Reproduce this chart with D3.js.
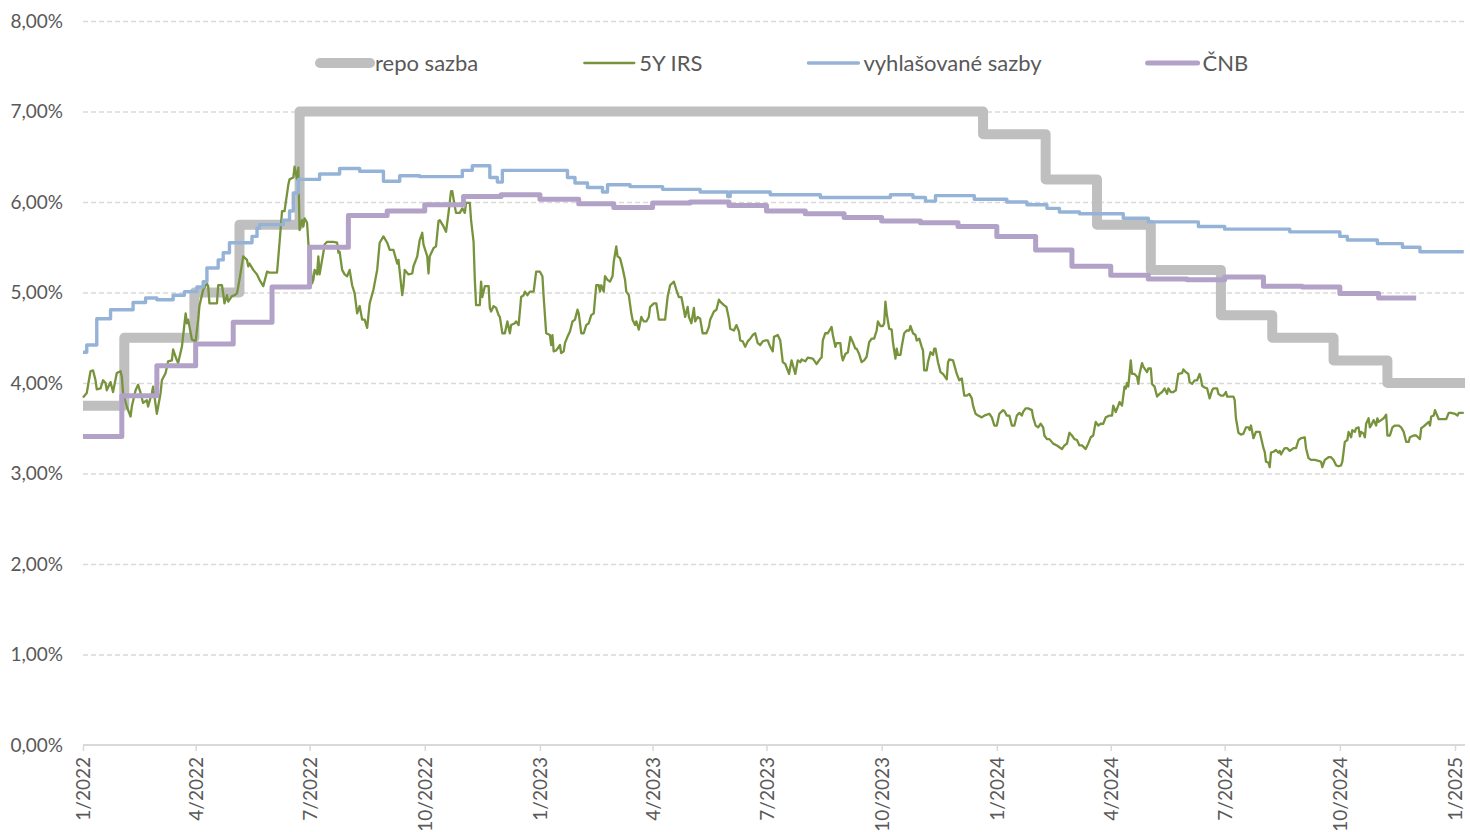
<!DOCTYPE html>
<html lang="cs">
<head>
<meta charset="UTF-8">
<script src="https://cdn.jsdelivr.net/npm/d3@7"></script>
<style>
  html, body { margin: 0; background: #fff; }
  svg { display: block; font-family: Lato, "Open Sans", sans-serif; }
</style>
</head>
<body>
<svg id="chart" width="1470" height="832"></svg>
<script>
// ---- data ----
var START = new Date(2022, 0, 1);

// repo sazba: date of change -> rate (%)
var repoDates = ["2022-01-01","2022-02-03","2022-03-31","2022-05-06","2022-06-23","2023-12-21",
                 "2024-02-09","2024-03-21","2024-05-03","2024-06-28","2024-08-08","2024-09-26",
                 "2024-11-08","2025-01-09"];
var repoRates = [3.75,4.50,5.00,5.75,7.00,6.75,6.25,5.75,5.25,4.75,4.50,4.25,4.00,4.00];

// ČNB: monthly values
var cnbMonths = ["2022-01","2022-02","2022-03","2022-04","2022-05","2022-06","2022-07","2022-08","2022-09",
                 "2022-10","2022-11","2022-12","2023-01","2023-02","2023-03","2023-04","2023-05","2023-06",
                 "2023-07","2023-08","2023-09","2023-10","2023-11","2023-12","2024-01","2024-02","2024-03",
                 "2024-04","2024-05","2024-06","2024-07","2024-08","2024-09","2024-10","2024-11","2024-12"];
var cnbRates = [3.41,3.86,4.19,4.43,4.67,5.06,5.50,5.85,5.90,5.97,6.06,6.08,
                6.03,5.98,5.94,5.99,6.00,5.96,5.90,5.87,5.83,5.79,5.77,5.73,
                5.62,5.47,5.29,5.19,5.15,5.14,5.17,5.07,5.06,4.99,4.94,4.94];

// vyhlašované sazby: [days since 1/1/2022, rate]
var announced = [[0,4.34],[3,4.42],[11,4.71],[22,4.81],[40,4.89],[50,4.94],[59,4.92],[72,4.97],[81,5.01],
  [91,5.06],[96,5.12],[99,5.27],[108,5.36],[112,5.44],[117,5.55],[135,5.62],[139,5.71],[141,5.75],
  [160,5.80],[165,5.90],[168,6.10],[172,6.25],[189,6.31],[205,6.37],[221,6.34],[240,6.23],[253,6.29],
  [269,6.28],[303,6.35],[311,6.40],[325,6.27],[331,6.22],[335,6.35],[387,6.27],[393,6.21],[403,6.16],
  [415,6.11],[419,6.19],[437,6.17],[463,6.14],[493,6.11],[515,6.06],[517,6.11],[549,6.08],[589,6.05],
  [645,6.08],[663,6.05],[673,6.01],[681,6.07],[712,6.03],[738,6.00],[754,5.97],[770,5.93],[780,5.89],
  [796,5.87],[831,5.82],[851,5.78],[891,5.73],[912,5.70],[964,5.67],[1004,5.62],[1010,5.58],
  [1034,5.54],[1054,5.50],[1068,5.45],[1103,5.45]];

// 5Y IRS: [days since 1/1/2022, rate]
var irs = [[0,3.84],[3,3.89],[6,4.13],[8,4.14],[10,4.03],[11,3.93],[14,3.94],[16,4.03],[18,4.00],[19,3.92],
  [22,4.01],[24,3.90],[27,4.11],[30,4.13],[31,4.07],[32,3.89],[35,3.74],[38,3.63],[39,3.74],[42,3.92],
  [44,3.98],[46,3.89],[48,3.78],[51,3.81],[52,3.74],[55,3.89],[56,3.96],[59,3.66],[62,3.89],[63,4.03],
  [66,4.11],[68,4.24],[71,4.25],[72,4.37],[74,4.29],[75,4.25],[76,4.22],[79,4.40],[82,4.77],[83,4.66],
  [84,4.70],[87,4.48],[90,4.46],[92,4.70],[93,4.85],[96,5.03],[99,5.10],[100,5.07],[101,4.88],[104,4.88],
  [107,4.88],[108,5.08],[111,5.08],[112,4.99],[113,4.88],[115,4.97],[116,4.90],[119,4.96],[121,4.97],[123,4.99],
  [125,5.14],[128,5.40],[131,5.36],[132,5.29],[133,5.32],[136,5.25],[139,5.20],[141,5.14],[144,5.07],[147,5.23],
  [149,5.22],[155,5.22],[157,5.55],[159,5.90],[161,5.90],[164,6.19],[165,6.25],[168,6.27],[169,6.39],[171,6.25],
  [172,6.38],[173,5.69],[175,5.80],[176,5.73],[177,5.82],[179,5.77],[180,5.55],[181,5.40],[183,5.10],[184,5.14],
  [185,5.25],[187,5.20],[188,5.40],[189,5.20],[191,5.36],[192,5.44],[193,5.53],[195,5.56],[197,5.56],[200,5.56],
  [203,5.55],[204,5.44],[205,5.45],[207,5.25],[209,5.20],[211,5.18],[213,5.25],[215,5.08],[217,4.99],[219,4.77],
  [221,4.85],[223,4.70],[225,4.70],[227,4.61],[229,4.88],[232,5.03],[235,5.25],[237,5.55],[240,5.62],[243,5.55],
  [245,5.47],[248,5.47],[251,5.32],[252,5.36],[255,4.97],[256,5.07],[257,5.25],[260,5.20],[263,5.21],[264,5.29],
  [267,5.40],[269,5.58],[271,5.66],[272,5.53],[275,5.40],[276,5.21],
  [277,5.40],[280,5.49],[282,5.51],[284,5.79],[285,5.80],[288,5.73],[290,5.67],[292,5.88],[294,6.12],[295,6.12],
  [297,5.95],[298,5.88],[301,5.88],[303,5.93],[305,5.88],[306,5.99],[309,5.99],[310,5.80],[312,5.56],[313,5.14],
  [314,4.86],[317,4.86],[318,5.12],[319,4.95],[321,5.07],[324,5.07],[325,4.83],[326,4.79],[328,4.85],[330,4.83],
  [332,4.75],[333,4.73],[335,4.55],[337,4.55],[339,4.68],[341,4.55],[342,4.64],[345,4.66],[346,4.68],[348,4.64],
  [350,4.95],[352,4.97],[353,5.01],[355,4.97],[357,5.01],[360,5.01],[362,5.23],[365,5.23],[367,5.18],[368,4.95],
  [370,4.55],[373,4.53],[374,4.42],[375,4.53],[376,4.35],[378,4.36],[380,4.40],[381,4.42],[382,4.33],[384,4.35],
  [385,4.44],[387,4.51],[389,4.57],[391,4.68],[393,4.70],[395,4.81],[396,4.77],[398,4.55],[400,4.55],[402,4.64],
  [404,4.66],[406,4.75],[408,4.77],[410,5.08],[412,5.08],[413,5.01],[414,5.08],[416,5.01],[417,5.18],[419,5.14],
  [421,5.12],[423,5.18],[424,5.34],[426,5.51],[427,5.40],[429,5.38],[431,5.27],[433,5.14],[434,5.01],[436,4.97],
  [438,4.77],[439,4.70],[441,4.64],[442,4.68],[444,4.59],[446,4.73],[448,4.68],[450,4.68],[452,4.73],[453,4.84],
  [456,4.88],[458,4.88],[460,4.70],[462,4.70],[465,4.70],[467,4.95],[469,5.08],[472,5.12],[474,5.03],[476,4.95],
  [478,4.95],[480,4.81],[481,4.73],[483,4.84],[484,4.73],[486,4.66],[488,4.83],[489,4.68],[491,4.73],[493,4.71],
  [495,4.55],[498,4.55],[500,4.62],[501,4.70],[504,4.79],[506,4.81],[508,4.92],[509,4.90],[512,4.86],[514,4.84],
  [516,4.71],[517,4.60],[520,4.58],[522,4.64],[524,4.57],[525,4.47],[527,4.46],[529,4.40],[531,4.46],[533,4.49],
  [535,4.53],[537,4.55],[539,4.44],[541,4.42],[543,4.46],[545,4.47],[547,4.47],[549,4.40],[551,4.35],[552,4.51],
  [555,4.53],[557,4.47],
  [559,4.23],[561,4.21],[564,4.10],[566,4.25],[567,4.20],[569,4.10],[571,4.25],[573,4.23],[574,4.26],[577,4.24],
  [579,4.28],[583,4.27],[585,4.23],[586,4.21],[589,4.27],[590,4.28],[591,4.47],[593,4.55],[595,4.55],[598,4.62],
  [599,4.53],[601,4.40],[602,4.44],[605,4.44],[606,4.31],[607,4.25],[609,4.32],[611,4.34],[613,4.51],[615,4.45],
  [617,4.38],[618,4.38],[620,4.32],[622,4.23],[624,4.25],[626,4.29],[628,4.45],[630,4.49],[632,4.49],[634,4.58],
  [635,4.68],[637,4.63],[639,4.63],[640,4.66],[641,4.90],[642,4.77],[644,4.60],[646,4.59],[647,4.45],[649,4.27],
  [650,4.38],[651,4.31],[653,4.31],[654,4.40],[656,4.55],[658,4.58],[660,4.58],[661,4.63],[663,4.55],[665,4.53],
  [666,4.47],[668,4.49],[670,4.40],[671,4.36],[672,4.14],[674,4.14],[675,4.23],[677,4.34],[679,4.31],[680,4.38],
  [681,4.38],[683,4.23],[685,4.12],[687,4.10],[690,4.04],[691,4.23],[692,4.26],[695,4.25],[696,4.20],[698,4.10],
  [700,4.03],[702,4.05],[704,3.86],[706,3.86],[708,3.88],[710,3.83],[711,3.75],[713,3.66],[715,3.64],[718,3.62],
  [720,3.64],[724,3.66],[726,3.62],[728,3.53],[730,3.53],[732,3.66],[735,3.70],[736,3.69],[738,3.64],[740,3.64],
  [742,3.53],[744,3.53],[746,3.64],[748,3.67],[750,3.64],[751,3.68],[753,3.72],[755,3.72],[758,3.70],[759,3.62],
  [761,3.53],[763,3.51],[765,3.55],[767,3.51],[768,3.42],[770,3.38],[772,3.38],[775,3.33],[778,3.31],[780,3.29],
  [782,3.27],[784,3.31],[786,3.33],[788,3.45],[790,3.42],[792,3.38],[794,3.37],[796,3.31],[798,3.31],[801,3.27],
  [803,3.33],[805,3.40],[807,3.42],[809,3.57],[811,3.53],[813,3.55],[815,3.55],[817,3.62],[820,3.64],[822,3.64],
  [823,3.75],[825,3.68],[827,3.75],[828,3.79],
  [830,3.75],[832,3.96],[833,3.94],[834,4.00],[835,3.96],[837,4.25],[838,4.10],[840,4.10],[842,4.07],[843,3.99],
  [844,4.10],[846,4.22],[847,4.18],[850,4.12],[851,4.16],[853,4.16],[854,3.99],[856,3.96],[858,3.85],[860,3.88],
  [862,3.90],[864,3.94],[866,3.88],[867,3.94],[869,3.90],[871,3.90],[873,3.92],[875,4.10],[878,4.11],[879,4.15],
  [881,4.12],[883,4.10],[884,4.01],[886,3.99],[888,4.03],[890,4.03],[892,4.10],[893,4.05],[894,3.97],[896,3.95],
  [898,3.94],[900,3.83],[902,3.92],[903,3.94],[906,3.94],[907,3.88],[909,3.86],[911,3.86],[913,3.90],[914,3.85],
  [916,3.85],[919,3.85],[920,3.81],[921,3.61],[923,3.45],[925,3.43],[927,3.44],[929,3.51],[931,3.51],[932,3.48],
  [933,3.53],[935,3.39],[937,3.46],[940,3.46],[941,3.40],[943,3.28],[944,3.24],[945,3.13],[947,3.12],[948,3.07],
  [949,3.23],[951,3.24],[953,3.26],[955,3.23],[956,3.25],[957,3.21],[959,3.26],[960,3.28],[962,3.28],[964,3.25],
  [965,3.26],[967,3.28],[969,3.28],[971,3.37],[973,3.39],[976,3.40],[977,3.28],[979,3.17],[981,3.15],[984,3.15],
  [987,3.14],[989,3.13],[990,3.07],[992,3.15],[995,3.18],[997,3.18],[999,3.15],[1001,3.09],[1003,3.08],[1005,3.09],
  [1006,3.13],[1008,3.35],[1010,3.37],[1011,3.46],[1013,3.40],[1014,3.48],[1016,3.46],[1017,3.50],[1019,3.51],[1020,3.41],
  [1021,3.46],[1023,3.44],[1024,3.40],[1025,3.55],[1027,3.61],[1028,3.51],[1029,3.53],[1031,3.59],[1033,3.53],[1034,3.61],
  [1035,3.57],[1037,3.59],[1039,3.61],[1041,3.65],[1042,3.42],[1044,3.42],[1046,3.51],[1048,3.53],[1051,3.53],[1053,3.51],
  [1055,3.46],[1057,3.35],[1059,3.35],[1060,3.40],[1063,3.42],[1065,3.42],[1068,3.38],[1069,3.50],[1071,3.52],[1075,3.57],
  [1076,3.53],[1077,3.63],[1079,3.64],[1080,3.70],[1083,3.60],[1085,3.60],[1089,3.60],[1091,3.67],[1093,3.67],[1096,3.66],
  [1098,3.64],[1099,3.67],[1103,3.67]];

var xTickLabels = ["1/2022","4/2022","7/2022","10/2022","1/2023","4/2023","7/2023","10/2023",
                   "1/2024","4/2024","7/2024","10/2024","1/2025"];
var yTicks = [0,1,2,3,4,5,6,7,8];
var seriesNames = ["repo sazba","5Y IRS","vyhlašované sazby","ČNB"];

drawChart();

function drawChart() {
  // plot box
  var plotLeft = 83, plotRight = 1465, plotTop = 21, plotBottom = 745;
  var textColor = "#595959", gridColor = "#d9d9d9";

  var parseDay = d3.timeParse("%Y-%m-%d"),
      parseMonth = d3.timeParse("%Y-%m"),
      parseTick = d3.timeParse("%m/%Y");

  var x = d3.scaleTime()
    .domain([START, new Date(2025, 0, 1)])
    .range([plotLeft, 1455]);
  var y = d3.scaleLinear().domain([0, 8]).range([plotBottom, plotTop]);

  var svg = d3.select("#chart");

  // dashed gridlines + y labels
  var yAxis = svg.append("g")
    .attr("transform", "translate(" + plotLeft + ",0)")
    .call(d3.axisLeft(y)
      .tickValues(yTicks)
      .tickSize(-(plotRight - plotLeft))
      .tickPadding(20)
      .tickFormat(function(d){ return d.toFixed(2).replace(".", ",") + "%"; }));
  yAxis.select(".domain").remove();
  yAxis.selectAll(".tick line")
    .attr("stroke", gridColor)
    .attr("stroke-width", 1.3)
    .attr("stroke-dasharray", "5,3")
    .filter(function(d){ return d === 0; }).remove();
  yAxis.selectAll(".tick text")
    .attr("fill", textColor)
    .style("font-size", "19px")
    .style("font-family", "Lato, 'Open Sans', sans-serif");

  // x axis, labels rotated
  var xAxis = svg.append("g")
    .attr("transform", "translate(0," + plotBottom + ")")
    .call(d3.axisBottom(x)
      .tickValues(xTickLabels.map(function(s){ return parseTick(s); }))
      .tickSize(6)
      .tickFormat(function(d){ return (d.getMonth() + 1) + "/" + d.getFullYear(); }));
  xAxis.select(".domain").remove();
  xAxis.append("line")
    .attr("x1", plotLeft).attr("x2", plotRight)
    .attr("stroke", gridColor).attr("stroke-width", 1.8);
  xAxis.selectAll(".tick line").attr("stroke", gridColor).attr("stroke-width", 1.5);
  xAxis.selectAll(".tick text")
    .attr("fill", textColor)
    .style("font-size", "19px")
    .style("font-family", "Lato, 'Open Sans', sans-serif")
    .style("text-anchor", "end")
    .attr("transform", "rotate(-90)")
    .attr("x", -12)
    .attr("y", 0)
    .attr("dy", "0.35em");

  // ---- series ----
  var repo = repoDates.map(function(d, i){ return {date: parseDay(d), v: repoRates[i]}; });
  var cnb = cnbMonths.map(function(d, i){ return {date: parseMonth(d), v: cnbRates[i]}; });
  var ann = announced.map(function(p){ return {date: d3.timeDay.offset(START, p[0]), v: p[1]}; });
  var swap = irs.map(function(p){ return {date: d3.timeDay.offset(START, p[0]), v: p[1]}; });

  var stepLine = d3.line()
    .x(function(d){ return x(d.date); })
    .y(function(d){ return y(d.v); })
    .curve(d3.curveStepAfter);
  var plainLine = d3.line()
    .x(function(d){ return x(d.date); })
    .y(function(d){ return y(d.v); });

  var series = [
    {name: seriesNames[0], color: "#bfbfbf", width: 10, data: repo, line: stepLine},
    {name: seriesNames[1], color: "#77933c", width: 2.3, data: swap, line: plainLine},
    {name: seriesNames[2], color: "#95b3d7", width: 3.4, data: ann, line: stepLine},
    {name: seriesNames[3], color: "#b3a2c7", width: 5, data: cnb, line: stepLine}
  ];

  svg.append("g").selectAll("path")
    .data(series)
    .join("path")
      .attr("fill", "none")
      .attr("stroke", function(s){ return s.color; })
      .attr("stroke-width", function(s){ return s.width; })
      .attr("stroke-linejoin", "round")
      .attr("d", function(s){ return s.line(s.data); });

  // ---- legend ----
  var legend = svg.append("g").attr("transform", "translate(318,63)");
  var lx = 0;
  series.forEach(function(s){
    var g = legend.append("g").attr("transform", "translate(" + lx + ",0)");
    g.append("line")
      .attr("x1", 2).attr("x2", 52)
      .attr("stroke", s.color)
      .attr("stroke-width", s.width)
      .attr("stroke-linecap", "round");
    var t = g.append("text")
      .attr("x", 57)
      .attr("dy", "0.35em")
      .attr("fill", textColor)
      .style("font-size", "22px")
      .text(s.name);
    lx += 57 + t.node().getComputedTextLength() + 104;
  });
}
</script>
</body>
</html>
